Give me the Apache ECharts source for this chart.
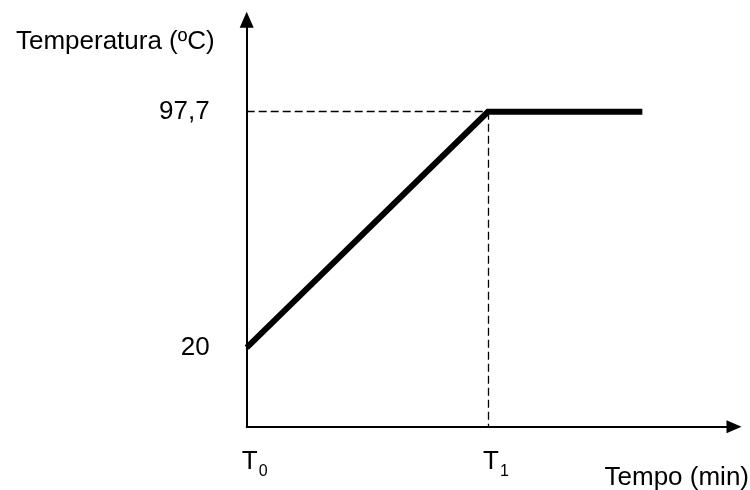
<!DOCTYPE html>
<html>
<head>
<meta charset="utf-8">
<script src="https://cdn.jsdelivr.net/npm/echarts@6/dist/echarts.min.js"></script>
<style>
  html, body { margin: 0; padding: 0; background: #fff; }
  #chart { width: 750px; height: 490px; }
</style>
</head>
<body>
<div id="chart"></div>
<script>
// Data (schematic heating curve)
const timeValues = [0, 10, 16.4];        // T0, T1, end of plateau (arbitrary time units)
const tempValues = [20, 97.7, 97.7];     // temperature (ºC)
const yTickValues = [20, 97.7];
const xTickValues = [0, 10];
const xTickSubscripts = ['0', '1'];      // T0, T1
const yAxisTitle = 'Temperatura (ºC)';
const xAxisTitle = 'Tempo (min)';

const FONT = '"Liberation Sans", Arial, Helvetica, sans-serif';

const lineData = timeValues.map((t, i) => [t, tempValues[i]]);

const chart = echarts.init(document.getElementById('chart'), null, { renderer: 'canvas' });

chart.setOption({
  backgroundColor: '#ffffff',
  animation: false,
  grid: {
    left: 246.7,
    right: 16,
    top: 19.7,
    bottom: 63.3,
    containLabel: false,
    outerBoundsMode: 'none'
  },
  xAxis: {
    type: 'value',
    min: 0,
    max: 20.2,
    name: xAxisTitle,
    nameLocation: 'end',
    nameGap: 15,
    nameTextStyle: {
      fontFamily: FONT,
      fontSize: 26,
      color: '#000',
      align: 'right',
      verticalAlign: 'top',
      padding: [38, 0, 0, 0]
    },
    axisLine: {
      show: true,
      onZero: false,
      lineStyle: { color: '#000', width: 2 },
      symbol: ['none', 'triangle'],
      symbolSize: [13, 15]
    },
    axisTick: { show: false },
    splitLine: { show: false },
    axisLabel: {
      show: true,
      customValues: xTickValues,
      margin: 23,
      align: 'center',
      formatter: function (v) {
        const idx = xTickValues.indexOf(v);
        return '{s|}{a|T}{b|' + (idx >= 0 ? xTickSubscripts[idx] : '') + '}';
      },
      rich: {
        s: { width: 16, fontSize: 26, fontFamily: FONT },
        a: { fontSize: 26, fontFamily: FONT, color: '#000', lineHeight: 30, verticalAlign: 'bottom', padding: [0, 0, 5, 0] },
        b: { fontSize: 16, fontFamily: FONT, color: '#000', lineHeight: 30, verticalAlign: 'bottom', padding: [0, 0, 0, 1] }
      }
    }
  },
  yAxis: {
    type: 'value',
    min: -6,
    max: 128,
    name: yAxisTitle,
    nameLocation: 'end',
    nameGap: -22,
    nameTextStyle: {
      fontFamily: FONT,
      fontSize: 26,
      color: '#000',
      align: 'right',
      verticalAlign: 'middle',
      padding: [0, 32, 0, 0]
    },
    axisLine: {
      show: true,
      onZero: false,
      lineStyle: { color: '#000', width: 2 },
      symbol: ['none', 'triangle'],
      symbolSize: [14, 16]
    },
    axisTick: { show: false },
    splitLine: { show: false },
    axisLabel: {
      show: true,
      customValues: yTickValues,
      margin: 37,
      fontFamily: FONT,
      fontSize: 26,
      color: '#000',
      padding: [0, 0, 8, 0],
      formatter: function (v) { return String(v).replace('.', ','); }
    }
  },
  series: [{
    type: 'line',
    data: lineData,
    symbol: 'none',
    lineStyle: { color: '#000', width: 6, cap: 'butt', join: 'miter' },
    z: 3,
    markLine: {
      silent: true,
      symbol: ['none', 'none'],
      label: { show: false },
      lineStyle: { color: '#000', width: 1.3, type: [8, 4] },
      data: [
        [{ coord: [timeValues[0], tempValues[1]] }, { coord: [timeValues[1], tempValues[1]] }],
        [{ coord: [timeValues[1], tempValues[1]] }, { coord: [timeValues[1], -6] }]
      ]
    }
  }]
});
</script>
</body>
</html>
